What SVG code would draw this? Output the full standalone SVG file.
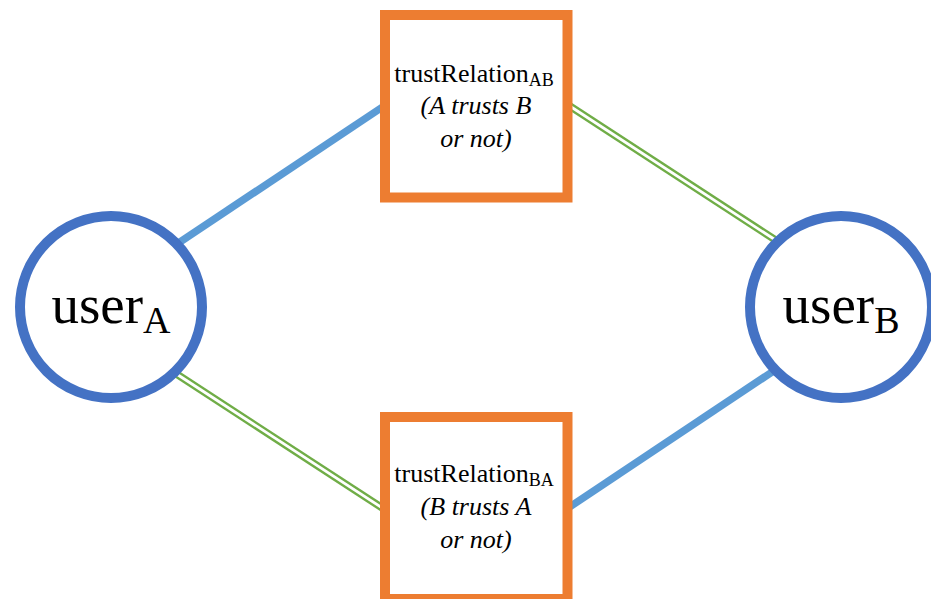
<svg xmlns="http://www.w3.org/2000/svg" width="931" height="599" viewBox="0 0 931 599">
<style>
.t{font-family:'Times New Roman',Times,'Liberation Serif',Tinos,'Noto Serif','DejaVu Serif',serif;fill:#000;text-anchor:middle}
.box{fill:#fff;stroke:#ED7D31;stroke-width:10}
.user{fill:#fff;stroke:#4472C4;stroke-width:10}
.blue{stroke:#5B9BD5;stroke-width:7.5;fill:none}
.gOut{stroke:#70AD47;stroke-width:7.5;fill:none}
.gIn{stroke:#fff;stroke-width:2.8;fill:none}
</style>
<rect width="931" height="599" fill="#fff"/>
<g id="connectors">
<line class="blue" x1="150" y1="262" x2="390" y2="102"/>
<line class="blue" x1="562" y1="512" x2="802" y2="352"/>
<line class="gOut" x1="562" y1="101" x2="800" y2="256"/>
<line class="gIn" x1="562" y1="101" x2="800" y2="256"/>
<line class="gOut" x1="152" y1="358" x2="390" y2="513"/>
<line class="gIn" x1="152" y1="358" x2="390" y2="513"/>
</g>
<g id="userA">
<circle class="user" cx="111" cy="307" r="91"/>
<text class="t" x="111" y="323" font-size="55">user<tspan dy="10" font-size="38">A</tspan></text>
</g>
<g id="userB">
<circle class="user" cx="841" cy="307" r="91"/>
<text class="t" x="841" y="323" font-size="55">user<tspan dy="10" font-size="38">B</tspan></text>
</g>
<g id="trustAB">
<rect class="box" x="385" y="15" width="182.5" height="182.5"/>
<text class="t" x="474" y="82" font-size="26">trustRelation<tspan dy="4" font-size="18">AB</tspan></text>
<text class="t" x="476" y="114" font-size="26" font-style="italic">(A trusts B</text>
<text class="t" x="476" y="147" font-size="26" font-style="italic">or not)</text>
</g>
<g id="trustBA">
<rect class="box" x="385" y="417" width="182.5" height="182"/>
<text class="t" x="474" y="482" font-size="26">trustRelation<tspan dy="4" font-size="18">BA</tspan></text>
<text class="t" x="476" y="515" font-size="26" font-style="italic">(B trusts A</text>
<text class="t" x="476" y="548" font-size="26" font-style="italic">or not)</text>
</g>
</svg>
